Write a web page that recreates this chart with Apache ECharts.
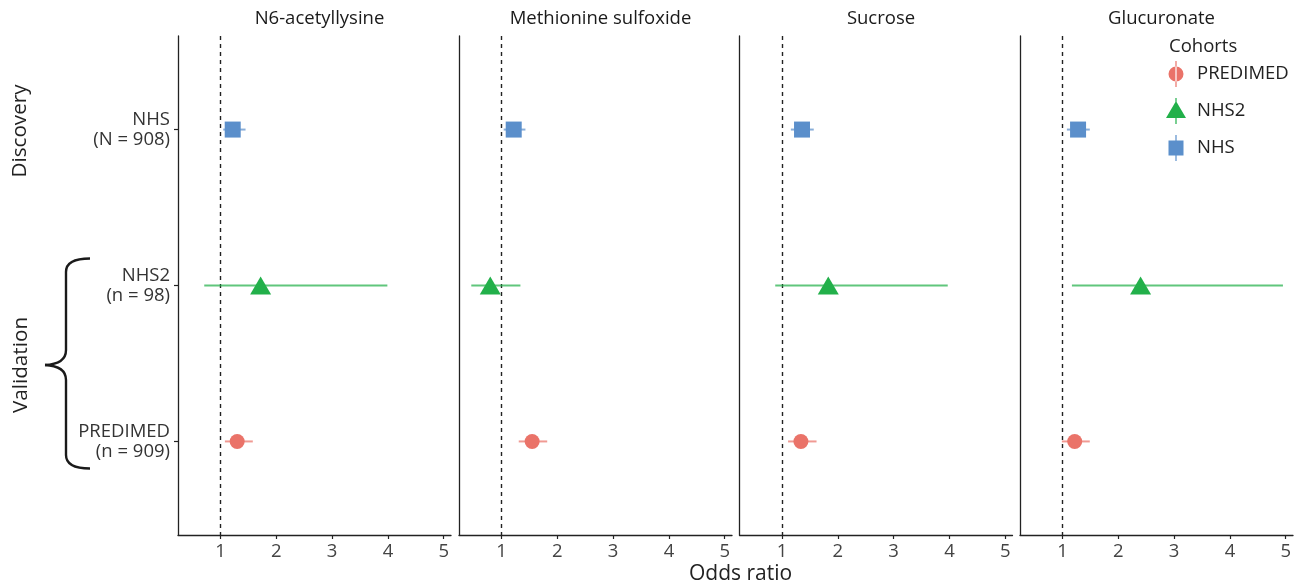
<!DOCTYPE html>
<html><head><meta charset="utf-8">
<script src="https://cdn.jsdelivr.net/npm/echarts@6/dist/echarts.min.js"></script>
<style>html,body{margin:0;padding:0;background:#fff}#c{width:1304px;height:588px}</style>
</head><body><div id="c"></div>
<script>
// ---- data ----
const metabolites = ['N6-acetyllysine', 'Methionine sulfoxide', 'Sucrose', 'Glucuronate'];
const cohortNames = ['NHS', 'NHS2', 'PREDIMED'];            // rows top to bottom
const cohortLabels = ['NHS\n(N = 908)', 'NHS2\n(n = 98)', 'PREDIMED\n(n = 909)'];
const legendOrder = ['PREDIMED', 'NHS2', 'NHS'];
const xTicks = [1, 2, 3, 4, 5];

const nhsOR  = [1.22, 1.22, 1.36, 1.28];
const nhsLo  = [1.05, 1.04, 1.16, 1.08];
const nhsHi  = [1.45, 1.43, 1.57, 1.49];
const nhs2OR = [1.72, 0.80, 1.83, 2.40];
const nhs2Lo = [0.71, 0.46, 0.88, 1.17];
const nhs2Hi = [3.99, 1.34, 3.97, 4.95];
const preOR  = [1.30, 1.55, 1.34, 1.22];
const preLo  = [1.08, 1.31, 1.11, 0.99];
const preHi  = [1.58, 1.82, 1.62, 1.49];

// ---- styling ----
const FONT = 'Open Sans';
const FS = 18.5;
const colors = { NHS: '#5B8FCB', NHS2: '#22B04A', PREDIMED: '#EA7369' };
const symbols = { NHS: 'rect', NHS2: 'triangle', PREDIMED: 'circle' };
const symSizes = { NHS: [16, 16], NHS2: [21, 18], PREDIMED: [15, 15] };
const legendIcons = {
  PREDIMED: 'path://M0,13 A7.5,7.5 0 1,0 15,13 A7.5,7.5 0 1,0 0,13 Z M6.9,0 L8.1,0 L8.1,26 L6.9,26 Z',
  NHS2: 'path://M0,20 L10,3 L20,20 Z M9.4,0 L10.6,0 L10.6,26 L9.4,26 Z',
  NHS: 'path://M0,5.5 L15,5.5 L15,20.5 L0,20.5 Z M6.9,0 L8.1,0 L8.1,26 L6.9,26 Z'
};

const seriesData = {
  NHS: [nhsOR, nhsLo, nhsHi],
  NHS2: [nhs2OR, nhs2Lo, nhs2Hi],
  PREDIMED: [preOR, preLo, preHi]
};

const gridLefts = [178, 459, 739.5, 1020];
const gridWidth = 273;
const grids = [], xAxes = [], yAxes = [], series = [], titles = [];

metabolites.forEach((m, p) => {
  grids.push({ left: gridLefts[p], width: gridWidth, top: 36, height: 499, containLabel: false });
  titles.push({
    text: m, left: gridLefts[p] + gridWidth / 2, top: 4, textAlign: 'center',
    textStyle: { fontFamily: FONT, fontSize: FS, fontWeight: 'normal', color: '#1a1a1a' }
  });
  xAxes.push({
    type: 'value', gridIndex: p, min: 0.24, max: 5.13,
    axisLine: { show: true, lineStyle: { color: '#222', width: 1.3 } },
    axisTick: { show: true, length: 4, customValues: xTicks, lineStyle: { color: '#222', width: 1.2 } },
    axisLabel: { show: true, customValues: xTicks, margin: 7, fontFamily: FONT, fontSize: FS, color: '#444' },
    splitLine: { show: false }
  });
  yAxes.push({
    type: 'value', gridIndex: p, inverse: true, min: 0.4, max: 3.6,
    axisLine: { show: true, onZero: false, lineStyle: { color: '#222', width: 1.3 } },
    axisTick: { show: p === 0, length: 4, customValues: [1, 2, 3], lineStyle: { color: '#222', width: 1.2 } },
    axisLabel: {
      show: p === 0, customValues: [1, 2, 3], margin: 8,
      formatter: v => cohortLabels[Math.round(v) - 1] || '',
      fontFamily: FONT, fontSize: FS, lineHeight: 20, color: '#333', align: 'right'
    },
    splitLine: { show: false }
  });

  cohortNames.forEach((c, ci) => {
    const [or, lo, hi] = seriesData[c];
    series.push({
      type: 'custom', name: c + '_ci', xAxisIndex: p, yAxisIndex: p, silent: true, z: 2,
      data: [[lo[p], hi[p], ci + 1]],
      encode: { x: [0, 1], y: 2 },
      renderItem: (params, api) => {
        const y = api.value(2);
        const a = api.coord([api.value(0), y]);
        const b = api.coord([api.value(1), y]);
        return { type: 'line', shape: { x1: a[0], y1: a[1], x2: b[0], y2: b[1] },
                 style: { stroke: colors[c], lineWidth: 2, opacity: 0.72 } };
      }
    });
  });
  cohortNames.forEach((c, ci) => {
    const [or] = seriesData[c];
    const s = {
      type: 'scatter', name: c, xAxisIndex: p, yAxisIndex: p, z: 3,
      symbol: symbols[c], symbolSize: symSizes[c],
      itemStyle: { color: colors[c], opacity: 1 },
      data: [[or[p], ci + 1]]
    };
    if (ci === 0) {
      s.markLine = {
        silent: true, symbol: ['none', 'none'], label: { show: false },
        lineStyle: { type: [4, 4], color: '#222', width: 1.4 },
        data: [{ xAxis: 1 }], z: 1
      };
    }
    series.push(s);
  });
});

titles.push({
  text: 'Odds ratio', left: 735.6, top: 559, textAlign: 'center',
  textStyle: { fontFamily: FONT, fontSize: 21, fontWeight: 'normal', color: '#222' }
});
titles.push({
  text: 'Cohorts', left: 1164, top: 32,
  textStyle: { fontFamily: FONT, fontSize: FS, fontWeight: 'normal', color: '#222' }
});

const braceStyle = { fill: 'none', stroke: '#1a1a1a', lineWidth: 2.4 };
const option = {
  animation: false,
  backgroundColor: '#fff',
  title: titles,
  grid: grids,
  xAxis: xAxes,
  yAxis: yAxes,
  legend: {
    orient: 'vertical', left: 1161, top: 56,
    itemWidth: 20, itemHeight: 26, itemGap: 11,
    data: legendOrder.map(n => ({ name: n, icon: legendIcons[n] })),
    textStyle: { fontFamily: FONT, fontSize: FS, color: '#222', padding: [0, 0, 0, 6] },
    selectedMode: false
  },
  series: series,
  graphic: [
    { type: 'text', x: 20, y: 131, rotation: Math.PI / 2,
      style: { text: 'Discovery', fontFamily: FONT, fontSize: 20.7, fill: '#222', textAlign: 'center', textVerticalAlign: 'middle' } },
    { type: 'text', x: 21, y: 365, rotation: Math.PI / 2,
      style: { text: 'Validation', fontFamily: FONT, fontSize: 20.7, fill: '#222', textAlign: 'center', textVerticalAlign: 'middle' } },
    { type: 'bezierCurve', shape: { x1: 90, y1: 258.5, cpx1: 66, cpy1: 258.5, x2: 66, y2: 272 }, style: braceStyle },
    { type: 'line', shape: { x1: 66, y1: 272, x2: 66, y2: 350 }, style: braceStyle },
    { type: 'bezierCurve', shape: { x1: 66, y1: 350, cpx1: 66, cpy1: 364, x2: 45, y2: 365 }, style: braceStyle },
    { type: 'bezierCurve', shape: { x1: 45, y1: 365, cpx1: 66, cpy1: 366, x2: 66, y2: 380 }, style: braceStyle },
    { type: 'line', shape: { x1: 66, y1: 380, x2: 66, y2: 455 }, style: braceStyle },
    { type: 'bezierCurve', shape: { x1: 66, y1: 455, cpx1: 66, cpy1: 468.5, x2: 90, y2: 468.5 }, style: braceStyle }
  ]
};

echarts.init(document.getElementById('c'), null, { renderer: 'canvas' }).setOption(option);
</script></body></html>
